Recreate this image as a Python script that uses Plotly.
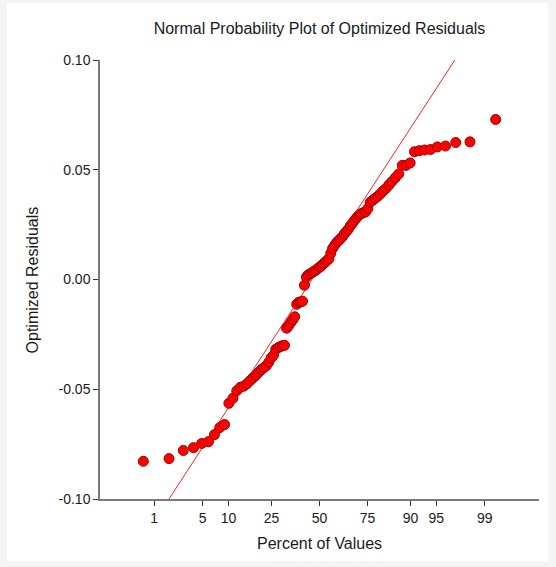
import plotly.graph_objects as go
from statistics import NormalDist

# Sorted optimized residuals
residuals = [
    -0.0828, -0.0816, -0.0779, -0.0766, -0.0747, -0.0739, -0.0707, -0.0675, -0.0661, -0.0564,
    -0.0541, -0.0507, -0.0491, -0.0486, -0.0475, -0.0461, -0.0448, -0.0437, -0.0423, -0.0411,
    -0.0402, -0.0393, -0.0377, -0.0357, -0.0345, -0.0318, -0.0311, -0.0306, -0.0302, -0.0300,
    -0.0222, -0.0211, -0.0197, -0.0184, -0.0170, -0.0113, -0.0104, -0.0102, -0.0099, -0.0026,
    0.0011, 0.0021, 0.0026, 0.0031, 0.0037, 0.0042, 0.0049, 0.0056, 0.0062, 0.0071,
    0.0078, 0.0087, 0.0094, 0.0119, 0.0142, 0.0156, 0.0167, 0.0176, 0.0185, 0.0194,
    0.0208, 0.0219, 0.0229, 0.0245, 0.0256, 0.0270, 0.0281, 0.0292, 0.0300, 0.0304,
    0.0308, 0.0323, 0.0352, 0.0361, 0.0370, 0.0379, 0.0390, 0.0404, 0.0415, 0.0431,
    0.0447, 0.0463, 0.0481, 0.0520, 0.0520, 0.0531, 0.0582, 0.0587, 0.0590, 0.0592,
    0.0604, 0.0608, 0.0624, 0.0627, 0.0729,
]

# Reference line: residual = intercept + slope * normal score
line_intercept = 0.0053
line_slope = 0.0497

# Percent tick labels on the normal-probability axis
percent_ticks = [1, 5, 10, 25, 50, 75, 90, 95, 99]
percent_range = [0.1, 99.9]

y_ticks = [-0.10, -0.05, 0.00, 0.05, 0.10]
y_tick_text = ["-0.10", "-0.05", "0.00", "0.05", "0.10"]

nd = NormalDist()
n = len(residuals)
scores = [nd.inv_cdf((i + 1 - 0.375) / (n + 0.25)) for i in range(n)]

x_lo = nd.inv_cdf(percent_range[0] / 100)
x_hi = nd.inv_cdf(percent_range[1] / 100)
line_x = [x_lo, x_hi]
line_y = [line_intercept + line_slope * v for v in line_x]

tick_vals = [nd.inv_cdf(p / 100) for p in percent_ticks]
tick_text = [str(p) for p in percent_ticks]

FONT = "Liberation Sans, Arial, sans-serif"
TXT = "#1a1a1a"
AX = "#7a7a7a"
PAGE = "#f4f4f4"

fig = go.Figure()
fig.add_trace(go.Scatter(
    x=line_x, y=line_y, mode="lines",
    line=dict(color="#ff2020", width=1),
    hoverinfo="skip", showlegend=False,
))
fig.add_trace(go.Scatter(
    x=scores, y=residuals, mode="markers",
    marker=dict(color="#ff0000", size=10, line=dict(color="#a00000", width=1)),
    showlegend=False,
))

fig.update_layout(
    width=556, height=567,
    margin=dict(l=100, r=17, t=60, b=68),
    paper_bgcolor=PAGE,
    plot_bgcolor="white",
    font=dict(family=FONT, size=14, color=TXT),
    title=dict(
        text="Normal Probability Plot of Optimized Residuals",
        font=dict(family=FONT, size=16, color=TXT),
        x=0.5, xref="paper", xanchor="center",
        y=1 - 28 / 567, yref="container", yanchor="middle",
    ),
    shapes=[dict(
        type="rect", xref="paper", yref="paper", layer="below",
        x0=-93 / 438.7, x1=(548 - 100) / 438.7,
        y0=(499 - 561) / 439, y1=(499 - 3) / 439,
        fillcolor="white", line=dict(width=0),
    )],
    annotations=[
        dict(text="Percent of Values", xref="paper", yref="paper",
             x=0.5, y=(499 - 543) / 439, xanchor="center", yanchor="middle",
             showarrow=False, font=dict(family=FONT, size=16, color=TXT)),
        dict(text="Optimized Residuals", xref="paper", yref="paper",
             x=(33 - 100) / 438.7, y=0.5, xanchor="center", yanchor="middle",
             textangle=-90, showarrow=False,
             font=dict(family=FONT, size=16, color=TXT)),
    ],
)

fig.update_xaxes(
    range=line_x, tickmode="array", tickvals=tick_vals, ticktext=tick_text,
    showgrid=False, zeroline=False,
    showline=True, linecolor=AX, linewidth=1.5,
    ticks="outside", ticklen=5, tickcolor="#333333", tickwidth=1,
    tickfont=dict(family=FONT, size=14, color=TXT),
)
fig.update_yaxes(
    range=[-0.10, 0.10], tickmode="array", tickvals=y_ticks, ticktext=y_tick_text,
    showgrid=False, zeroline=False,
    showline=True, linecolor=AX, linewidth=1.5,
    ticks="outside", ticklen=5, tickcolor="#333333", tickwidth=1,
    tickfont=dict(family=FONT, size=14, color=TXT),
)

fig.write_html(
    "out.html",
    config={"displayModeBar": False},
    post_script="document.body.style.margin='0';document.body.style.background='%s';" % PAGE,
)
